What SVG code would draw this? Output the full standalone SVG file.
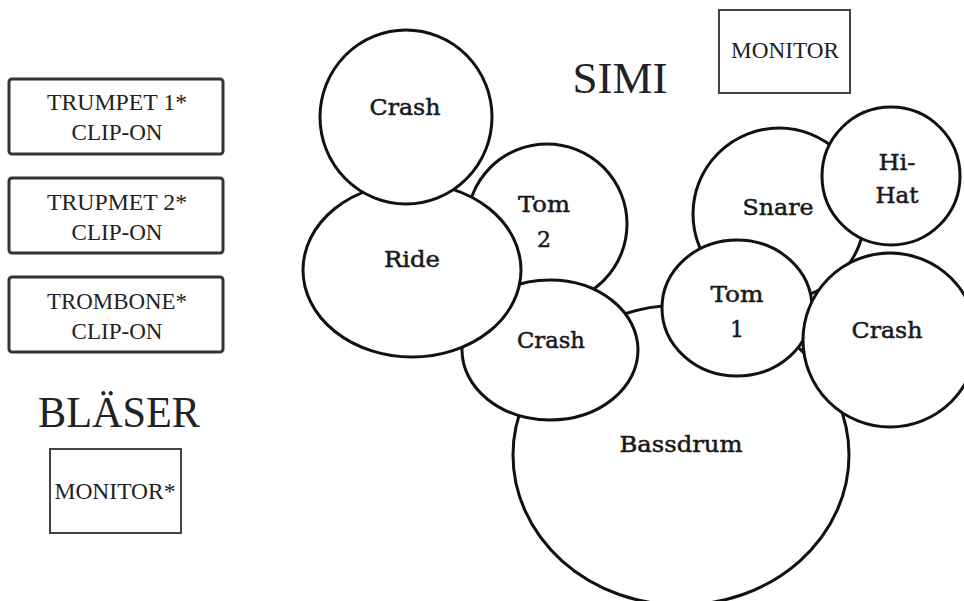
<svg xmlns="http://www.w3.org/2000/svg" width="964" height="601" viewBox="0 0 964 601">
<style>
.box{fill:#fff;stroke:#333;stroke-width:3}
.mon{fill:#fff;stroke:#444;stroke-width:2}
.t{font-family:"Liberation Serif","DejaVu Serif",serif;fill:#222;text-anchor:middle}
.drum{fill:#fff;stroke:#111;stroke-width:3}
.d{font-family:"DejaVu Serif",serif;font-size:22px;fill:#1a1a1a;stroke:#1a1a1a;stroke-width:0.5;text-anchor:middle}
</style>
<rect width="964" height="601" fill="#fff"/>
<g id="trumpet1">
<rect class="box" x="9" y="79" width="214" height="75" rx="3"/>
<text class="t" x="117" y="110" font-size="24" textLength="140" lengthAdjust="spacingAndGlyphs">TRUMPET 1*</text>
<text class="t" x="117" y="140" font-size="24" textLength="91" lengthAdjust="spacingAndGlyphs">CLIP-ON</text>
</g>
<g id="trumpet2">
<rect class="box" x="9" y="178" width="214" height="75" rx="3"/>
<text class="t" x="117" y="210" font-size="24" textLength="140" lengthAdjust="spacingAndGlyphs">TRUPMET 2*</text>
<text class="t" x="117" y="240" font-size="24" textLength="91" lengthAdjust="spacingAndGlyphs">CLIP-ON</text>
</g>
<g id="trombone">
<rect class="box" x="9" y="277" width="214" height="75" rx="3"/>
<text class="t" x="117" y="309" font-size="24" textLength="140" lengthAdjust="spacingAndGlyphs">TROMBONE*</text>
<text class="t" x="117" y="339" font-size="24" textLength="91" lengthAdjust="spacingAndGlyphs">CLIP-ON</text>
</g>
<g id="blaeser">
<text class="t" x="119" y="427" font-size="44" textLength="162" lengthAdjust="spacingAndGlyphs">BLÄSER</text>
</g>
<g id="monitor-blaeser">
<rect class="mon" x="50" y="449" width="131" height="84"/>
<text class="t" x="115" y="499" font-size="24" textLength="121" lengthAdjust="spacingAndGlyphs">MONITOR*</text>
</g>
<g id="simi">
<text class="t" x="620" y="93" font-size="44" textLength="95" lengthAdjust="spacingAndGlyphs">SIMI</text>
</g>
<g id="monitor-simi">
<rect class="mon" x="719" y="10" width="131" height="83"/>
<text class="t" x="785" y="58" font-size="23" textLength="108" lengthAdjust="spacingAndGlyphs">MONITOR</text>
</g>
<g id="connectors"></g>
<g id="bassdrum">
<ellipse class="drum" cx="681" cy="455" rx="168" ry="150"/>
<text class="d" x="681" y="452" textLength="123" lengthAdjust="spacingAndGlyphs">Bassdrum</text>
</g>
<g id="tom2">
<circle class="drum" cx="547" cy="224" r="80"/>
<text class="d" x="544" y="212" textLength="52" lengthAdjust="spacingAndGlyphs">Tom</text>
<text class="d" x="544" y="247">2</text>
</g>
<g id="crash-mid">
<ellipse class="drum" cx="550" cy="350" rx="88" ry="70"/>
<text class="d" x="551" y="348" textLength="68" lengthAdjust="spacingAndGlyphs">Crash</text>
</g>
<g id="ride">
<ellipse class="drum" cx="412" cy="270" rx="109" ry="87"/>
<text class="d" x="412" y="267" textLength="56" lengthAdjust="spacingAndGlyphs">Ride</text>
</g>
<g id="crash-top">
<ellipse class="drum" cx="406" cy="117" rx="86" ry="87"/>
<text class="d" x="405" y="115" textLength="71" lengthAdjust="spacingAndGlyphs">Crash</text>
</g>
<g id="snare">
<circle class="drum" cx="779" cy="214" r="86"/>
<text class="d" x="778" y="215" textLength="71" lengthAdjust="spacingAndGlyphs">Snare</text>
</g>
<g id="hihat">
<circle class="drum" cx="891" cy="176" r="69"/>
<text class="d" x="897" y="170" textLength="37" lengthAdjust="spacingAndGlyphs">Hi-</text>
<text class="d" x="897" y="203" textLength="43" lengthAdjust="spacingAndGlyphs">Hat</text>
</g>
<g id="tom1">
<ellipse class="drum" cx="737" cy="308" rx="75" ry="68"/>
<text class="d" x="737" y="302" textLength="53" lengthAdjust="spacingAndGlyphs">Tom</text>
<text class="d" x="737" y="337">1</text>
</g>
<g id="crash-right">
<circle class="drum" cx="890" cy="340" r="87"/>
<text class="d" x="887" y="338" textLength="71" lengthAdjust="spacingAndGlyphs">Crash</text>
</g>
</svg>
